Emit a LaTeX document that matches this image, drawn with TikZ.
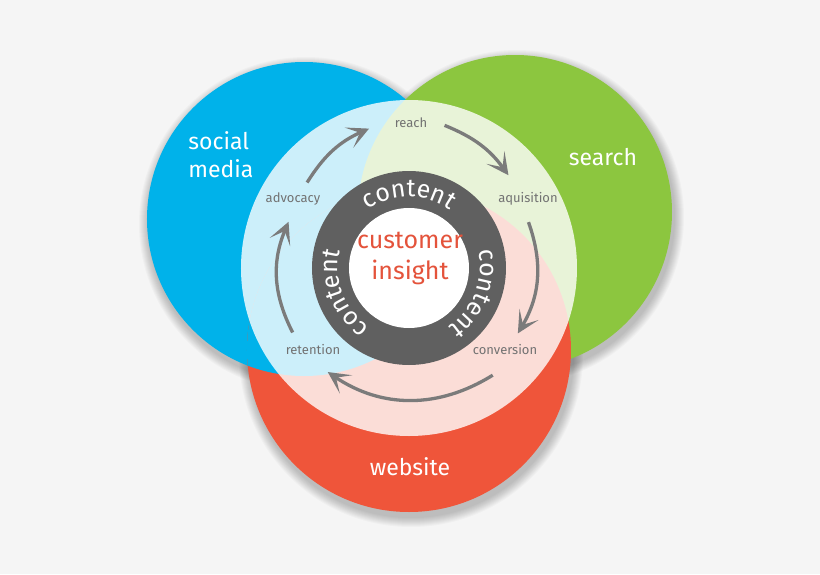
\documentclass[tikz,border=0pt]{standalone}
\usepackage{fontspec}
\setmainfont{Fira Sans}
\usetikzlibrary{arrows.meta,decorations.text}

\definecolor{bgc}{HTML}{F5F5F5}
\definecolor{smblue}{HTML}{00B2EA}
\definecolor{srgreen}{HTML}{8CC63F}
\definecolor{webred}{HTML}{EF553A}
\definecolor{ringgray}{HTML}{606060}
\definecolor{txtgray}{HTML}{727272}
\definecolor{arrgray}{HTML}{7B7B7B}
\definecolor{insred}{HTML}{E4533B}

\tikzset{
  bigtext/.style={text=white, font=\fontsize{23}{28}\selectfont},
  steplabel/.style={text=txtgray, font=\fontsize{13}{15}\selectfont},
  cycarrow/.style={-{Stealth[length=22pt,width=22pt,inset=12pt]}, line width=3.3pt, draw=arrgray},
}

\begin{document}
\begin{tikzpicture}[x=1pt,y=1pt]
\fill[bgc] (-409,-306) rectangle (411,268);
\useasboundingbox (-409,-306) rectangle (411,268);
\coordinate (hub) at (0,0);
\coordinate (sm) at (-105,49);
\coordinate (se) at (106,56);
\coordinate (we) at (0,-82);
% soft shadows under the three discs
\foreach \c/\r in {sm/157,se/157,we/162}
  \foreach \k in {1,...,10}
    \fill[black,opacity=.025] ([shift={(2,-5)}]\c) circle (\r+11-\k);
% the three discs, each one lying over the next
\fill[smblue] (sm) circle (157);
\fill[srgreen] (se) circle (157);
\fill[webred] (we) circle (162);
\begin{scope}
  \clip (we) circle (162);
  \fill[smblue] (sm) circle (157);
\end{scope}
% pale inner disc
\fill[white,opacity=.8] (hub) circle (168);
% dark ring
\fill[ringgray] (hub) circle (97);
\fill[white] (hub) circle (60);
\foreach \a in {90,-21,-159}
  \path[decorate,decoration={text along path,text align=center,
      text={|\fontsize{25}{25}\selectfont\color{white}|content}}]
    (\a+55:71) arc[start angle=\a+55,end angle=\a-55,radius=71];
\node[text=insred, font=\fontsize{25}{31}\selectfont, align=center] (insight) at (1,10) {customer\\insight};

% circle names
\node[bigtext, align=left] (social) at (-188,113) {social\\media};
\node[bigtext] (search) at (194,111) {search};
\node[bigtext] (website) at (1,-199) {website};

% cycle steps
\node[steplabel] (reach) at (2,145) {reach};
\node[steplabel] (aquisition) at (119,69) {aquisition};
\node[steplabel] (conversion) at (96,-82) {conversion};
\node[steplabel] (retention) at (-96,-82) {retention};
\node[steplabel] (advocacy) at (-116,69) {advocacy};

\coordinate (a1) at (140:133); \coordinate (b1) at (106:145);
\coordinate (a2) at (76:147);  \coordinate (b2) at (43:136);
\coordinate (a3) at (21:128);  \coordinate (b3) at (-31:127);
\coordinate (a4) at (-52:136); \coordinate (b4) at (-128:132);
\coordinate (a5) at (209:133); \coordinate (b5) at (159:129);
\draw[cycarrow] (a1) to[bend left=17] (b1);
\draw[cycarrow] (a2) to[bend left=16] (b2);
\draw[cycarrow] (a3) to[bend left=25] (b3);
\draw[cycarrow] (a4) to[bend left=33] (b4);
\draw[cycarrow] (a5) to[bend left=25] (b5);
\end{tikzpicture}
\end{document}
